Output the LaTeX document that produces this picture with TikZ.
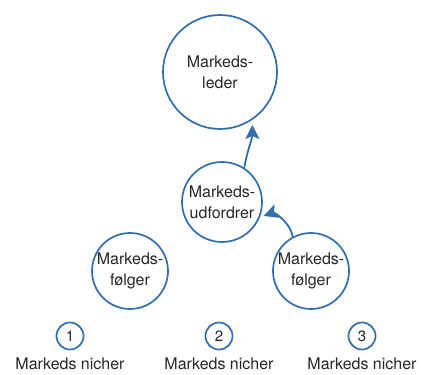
\documentclass[tikz,border=0pt]{standalone}
\usepackage{fontspec}
\setmainfont{TeX Gyre Heros}
\usepackage{tikz}
\usetikzlibrary{arrows.meta, positioning}
\definecolor{ringblue}{RGB}{52,110,170}

\begin{document}
\begin{tikzpicture}[
  x=1pt, y=1pt,
  font=\fontsize{16}{21}\selectfont,
  ring/.style={draw=ringblue, line width=1.7pt, circle, inner sep=0pt, align=center, text=black!85},
  big/.style={ring, minimum size=114pt},
  mid/.style={ring, minimum size=80pt},
  small/.style={ring, minimum size=76pt},
  tiny/.style={ring, minimum size=27pt, font=\fontsize{15}{16}\selectfont},
  ar/.style={-{Stealth[length=14pt, width=14pt, inset=3pt]}, draw=ringblue, line width=1.8pt},
  nichelabel/.style={inner sep=0pt, text=black!85}
]
\useasboundingbox (0,0) rectangle (422,-374);
\node[big] (leader) at (220,-72) {Markeds-\\leder};
\node[mid] (chal) at (222,-202) {Markeds-\\udfordrer};
\node[small] (follL) at (130,-271) {Markeds-\\følger};
\node[small] (follR) at (311,-271) {Markeds-\\følger};
\node[tiny] (niche1) at (70,-336) {1};
\node[tiny] (niche2) at (219,-336) {2};
\node[tiny] (niche3) at (362,-336) {3};
\node[nichelabel, below=7pt of niche1] (lab1) {Markeds nicher};
\node[nichelabel, below=7pt of niche2] (lab2) {Markeds nicher};
\node[nichelabel, below=7pt of niche3] (lab3) {Markeds nicher};
\draw[ar, shorten >=5pt] (chal.57) to[out=80, in=-90] (leader.-56);
\draw[ar, shorten >=4pt] (follR.118) to[out=100, in=20] (chal.-22);
\end{tikzpicture}
\end{document}
